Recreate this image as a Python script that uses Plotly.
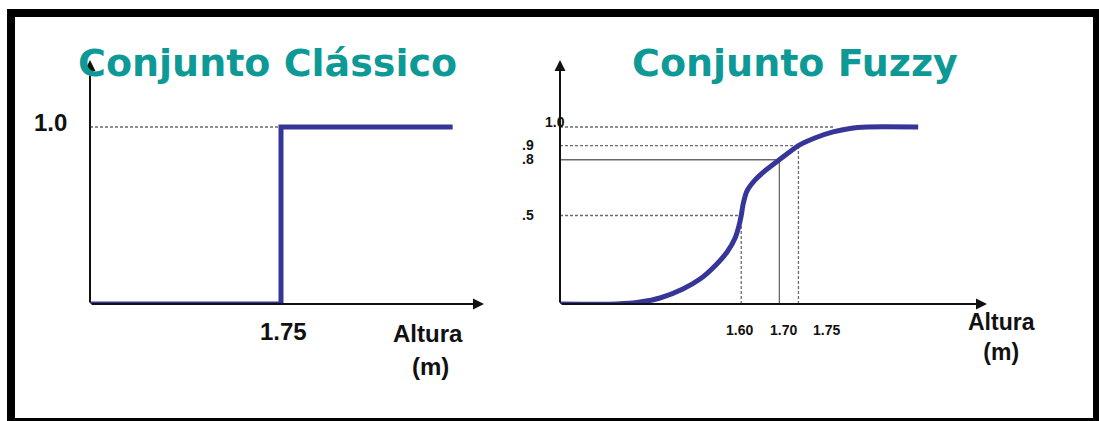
import plotly.graph_objects as go

# ---------------- data ----------------
classic_x = [1.25, 1.75, 1.75, 2.20]
classic_mu = [0.0, 0.0, 1.0, 1.0]
classic_threshold = 1.75

fuzzy_x = [1.125, 1.274, 1.335, 1.387, 1.447, 1.492, 1.531, 1.563, 1.584, 1.594, 1.600, 1.605,
           1.615, 1.636, 1.662, 1.700, 1.750, 1.793, 1.841, 1.885, 1.930, 2.064]
fuzzy_mu = [0.0, 0.0, 0.011, 0.034, 0.085, 0.141, 0.215, 0.294, 0.373, 0.441, 0.50, 0.565,
            0.638, 0.70, 0.752, 0.815, 0.895, 0.938, 0.972, 0.992, 1.0, 1.0]

fuzzy_marks_x = [1.60, 1.70, 1.75]
fuzzy_marks_mu = [0.5, 0.815, 0.895]
fuzzy_full_x = 1.841  # where the dashed 1.0 guide meets the curve

titles = ["Conjunto Clássico", "Conjunto Fuzzy"]
classic_ytick = "1.0"
fuzzy_yticks = ["1.0", ".9", ".8", ".5"]
fuzzy_yvals = [1.0, 0.895, 0.815, 0.5]
fuzzy_xticks = ["1.60", "1.70", "1.75"]
axis_label = ["Altura", "(m)"]

# ---------------- layout helpers ----------------
W, H = 1099, 421
PX_PER_M = 381.4
PX_PER_MU = 177.0
BASE_PY = 304

def px(v):
    return v / W

def py(v):
    return 1 - v / H

# left panel geometry
L_AX_PX = 90
L_X0 = classic_threshold - (281 - L_AX_PX) / PX_PER_M
L_DOM = [L_AX_PX, 500]
L_RANGE = [L_X0, L_X0 + (L_DOM[1] - L_DOM[0]) / PX_PER_M]

# right panel geometry
R_AX_PX = 560
R_REF_M, R_REF_PX = 1.6833, 773
R_X0 = R_REF_M + (R_AX_PX - R_REF_PX) / PX_PER_M
R_DOM = [R_AX_PX, 1000]
R_RANGE = [R_X0, R_X0 + (R_DOM[1] - R_DOM[0]) / PX_PER_M]

Y_TOP_PY = 40
Y_RANGE = [0, (BASE_PY - Y_TOP_PY) / PX_PER_MU]
Y_DOM = [py(BASE_PY), py(Y_TOP_PY)]

BLUE = "#363699"
TEAL = "#0d9a96"
GUIDE = "#6a6a6a"

fig = go.Figure()

fig.add_trace(go.Scatter(x=classic_x, y=classic_mu, mode="lines",
                         line=dict(color=BLUE, width=5), xaxis="x", yaxis="y",
                         showlegend=False, hoverinfo="skip"))
fig.add_trace(go.Scatter(x=fuzzy_x, y=fuzzy_mu, mode="lines",
                         line=dict(color=BLUE, width=5, shape="spline", smoothing=0.6),
                         xaxis="x2", yaxis="y2", showlegend=False, hoverinfo="skip"))

shapes = []
annotations = []

def seg(xr, yr, x0, y0, x1, y1, dash, color=GUIDE, width=1.3):
    shapes.append(dict(type="line", xref=xr, yref=yr, x0=x0, y0=y0, x1=x1, y1=y1,
                       line=dict(color=color, width=width, dash=dash), layer="below"))

# left guide
seg("x", "y", L_X0, 1.0, classic_threshold, 1.0, "3px,2px")

# right guides
seg("x2", "y2", R_X0, 1.0, fuzzy_full_x, 1.0, "3px,2px")
for xv, mv, d in zip(fuzzy_marks_x, fuzzy_marks_mu, ["3px,2px", "solid", "3px,2px"]):
    seg("x2", "y2", R_X0, mv, xv, mv, d)
    seg("x2", "y2", xv, 0, xv, mv, d)

# axes with arrows
def arrow(xr, yr, tx, ty, fx, fy):
    annotations.append(dict(xref=xr, yref=yr, axref=xr, ayref=yr, x=tx, y=ty, ax=fx, ay=fy,
                            showarrow=True, arrowhead=2, arrowsize=1.1, arrowwidth=2,
                            arrowcolor="#111111", text=""))

y_tip = (BASE_PY - 60) / PX_PER_MU
arrow("x", "y", L_X0 + (484 - L_AX_PX) / PX_PER_M, 0, L_X0, 0)
arrow("x", "y", L_X0, y_tip, L_X0, 0)
arrow("x2", "y2", R_X0 + (987 - R_AX_PX) / PX_PER_M, 0, R_X0, 0)
arrow("x2", "y2", R_X0, y_tip, R_X0, 0)

LAB = "Liberation Sans, Arial, sans-serif"

def text(xr, yr, x, y, t, size, color="#111111", family=LAB, xshift=0, yshift=0, xanchor="center"):
    annotations.append(dict(xref=xr, yref=yr, x=x, y=y, text=t, showarrow=False,
                            font=dict(size=size, color=color, family=family),
                            xanchor=xanchor, yanchor="middle", xshift=xshift, yshift=yshift))

def b(t):
    return "<b>%s</b>" % t

# titles
text("paper", "paper", px(267), py(63), b(titles[0]), 38, TEAL, "DejaVu Sans, Verdana, sans-serif")
text("paper", "paper", px(795), py(63), b(titles[1]), 38, TEAL, "DejaVu Sans, Verdana, sans-serif")

# left labels
text("x", "y", L_X0, 1.0, b(classic_ytick), 24, xshift=-40, yshift=5)
text("x", "y", classic_threshold, 0, b(str(classic_threshold)), 24, xshift=2, yshift=-27)
text("paper", "paper", px(428), py(333), b(axis_label[0]), 24)
text("paper", "paper", px(430), py(366), b(axis_label[1]), 24)

# right labels
for lbl, v in zip(fuzzy_yticks, fuzzy_yvals):
    if lbl == "1.0":
        text("x2", "y2", R_X0, v, b(lbl), 14, xshift=-5, yshift=5)
    else:
        text("x2", "y2", R_X0, v, b(lbl), 14, xshift=-32, yshift=1)
for lbl, xv, sh in zip(fuzzy_xticks, fuzzy_marks_x, [-2, 4, 28]):
    text("x2", "y2", xv, 0, b(lbl), 14, xshift=sh, yshift=-26)
text("paper", "paper", px(1001), py(337), b(axis_label[0]) + "<br>" + b(axis_label[1]), 23)

# frame
shapes.append(dict(type="rect", xref="paper", yref="paper", x0=px(11), y0=py(13), x1=px(1097), y1=py(422),
                   line=dict(color="#000000", width=8)))

axis_common = dict(visible=False, showgrid=False, zeroline=False, fixedrange=True)
fig.update_layout(
    width=W, height=H,
    margin=dict(l=0, r=0, t=0, b=0),
    paper_bgcolor="white", plot_bgcolor="rgba(0,0,0,0)",
    xaxis=dict(domain=[px(L_DOM[0]), px(L_DOM[1])], range=L_RANGE, anchor="y", **axis_common),
    yaxis=dict(domain=Y_DOM, range=Y_RANGE, anchor="x", **axis_common),
    xaxis2=dict(domain=[px(R_DOM[0]), px(R_DOM[1])], range=R_RANGE, anchor="y2", **axis_common),
    yaxis2=dict(domain=Y_DOM, range=Y_RANGE, anchor="x2", **axis_common),
    shapes=shapes, annotations=annotations, showlegend=False,
)

fig.write_html("out.html", config={"displayModeBar": False},
               post_script="document.body.style.margin='0';document.body.style.overflow='hidden';")
